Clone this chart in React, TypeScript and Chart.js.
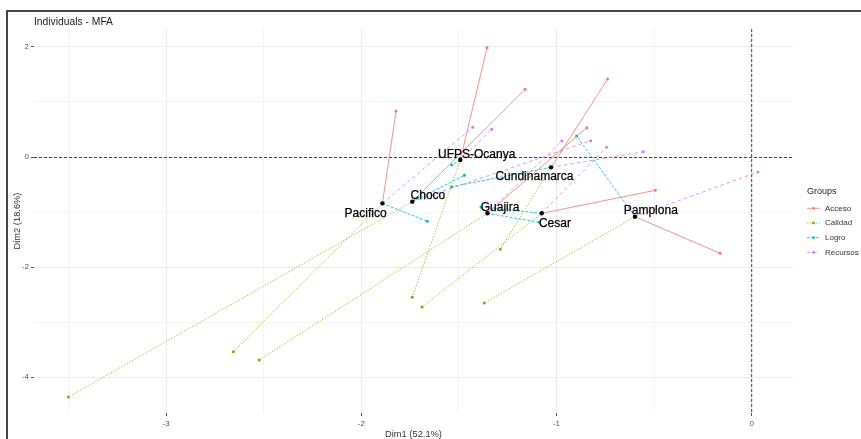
import React, { useEffect, useRef } from "react";
import { Chart, registerables } from "chart.js";
Chart.register(...registerables);

// ---------- data ----------
const individuals = ["UFPS-Ocanya", "Cundinamarca", "Choco", "Pacifico", "Guajira", "Cesar", "Pamplona"];
const indX = [-1.493, -1.028, -1.739, -1.892, -1.354, -1.076, -0.598];
const indY = [-0.054, -0.188, -0.811, -0.842, -1.023, -1.023, -1.084];

const groups = ["Acceso", "Calidad", "Logro", "Recursos"];
const accesoX = [-1.356, -0.738, -1.161, -1.822, -0.845, -0.494, -0.162];
const accesoY = [1.985, 1.417, 1.23, 0.836, 0.532, -0.605, -1.749];
const calidadX = [-1.739, -1.288, -3.501, -2.656, -2.523, -1.689, -1.37];
const calidadY = [-2.549, -1.677, -4.36, -3.537, -3.688, -2.725, -2.652];
const logroX = [-1.537, -1.537, -1.472, -1.662, -1.088, -1.387, -0.897];
const logroY = [-0.145, -0.539, -0.333, -1.169, -1.187, -0.908, 0.381];
const recursosX = [-1.332, -0.555, -0.825, -1.429, -0.973, -0.743, 0.032];
const recursosY = [0.503, 0.096, 0.296, 0.54, 0.291, 0.176, -0.272];

// label anchor positions (data units, text centre)
const labelX = [-1.409, -1.113, -1.659, -1.978, -1.289, -1.008, -0.517];
const labelY = [0.067, -0.345, -0.678, -1.005, -0.903, -1.186, -0.963];

const xMajorTicks = [-3, -2, -1, 0];
const xMinorTicks = [-3.5, -2.5, -1.5, -0.5];
const yMajorTicks = [2, 0, -2, -4];
const yMinorTicks = [1, -1, -3];

const titleText = "Individuals - MFA";
const xTitle = "Dim1 (52.1%)";
const yTitle = "Dim2 (18.6%)";
const legendTitle = "Groups";

// ---------- styles ----------
const groupColors = ["#F8766D", "#7CAE00", "#00BFC4", "#C77CFF"];
const groupLineColors = ["rgba(248,118,109,0.8)", "rgba(124,174,0,0.7)", "rgba(0,191,196,0.8)", "rgba(199,124,255,0.8)"];
const groupDash: number[][] = [[], [1.5, 1.5], [3, 1.5], [3.5, 3]];
const FONT = "'Liberation Sans', Arial, sans-serif";

const partialX = [accesoX, calidadX, logroX, recursosX];
const partialY = [accesoY, calidadY, logroY, recursosY];

export default function App() {
  const ref = useRef<HTMLCanvasElement | null>(null);

  useEffect(() => {
    if (!ref.current) return;

    const datasets: any[] = [];
    datasets.push({
      label: "ind",
      data: individuals.map((_, i) => ({ x: indX[i], y: indY[i] })),
      backgroundColor: "#000",
      pointBackgroundColor: "#000",
      borderColor: "rgba(0,0,0,0)",
      pointBorderColor: "rgba(0,0,0,0)",
      pointRadius: 2.2,
      borderWidth: 1,
      pointBorderWidth: 0,
      showLine: false,
      order: 0,
    });
    groups.forEach((g, gi) => {
      individuals.forEach((_, i) => {
        datasets.push({
          label: g,
          data: [
            { x: indX[i], y: indY[i] },
            { x: partialX[gi][i], y: partialY[gi][i] },
          ],
          showLine: true,
          borderColor: groupLineColors[gi],
          backgroundColor: groupColors[gi],
          pointBackgroundColor: groupColors[gi],
          pointBorderColor: "rgba(0,0,0,0)",
          borderWidth: 1,
          borderDash: groupDash[gi],
          pointRadius: [0, 1.5],
          pointBorderWidth: 0,
          fill: false,
          tension: 0,
          order: 1,
        });
      });
    });

    const overlay = {
      id: "overlay",
      beforeDatasetsDraw(chart: any) {
        const { ctx, chartArea, scales } = chart;
        const x = scales.x, y = scales.y;
        ctx.save();
        ctx.strokeStyle = "#444";
        ctx.lineWidth = 1;
        ctx.setLineDash([3, 2]);
        const y0 = Math.round(y.getPixelForValue(0)) + 0.5;
        ctx.beginPath();
        ctx.moveTo(chartArea.left, y0);
        ctx.lineTo(chartArea.right, y0);
        ctx.stroke();
        const x0 = x.getPixelForValue(0);
        ctx.beginPath();
        ctx.moveTo(x0, chartArea.top);
        ctx.lineTo(x0, chartArea.bottom);
        ctx.stroke();
        ctx.restore();
      },
      afterDatasetsDraw(chart: any) {
        const { ctx, scales } = chart;
        ctx.save();
        ctx.fillStyle = "#000";
        ctx.strokeStyle = "#000";
        ctx.lineWidth = 0.25;
        ctx.setLineDash([]);
        ctx.font = `12px ${FONT}`;
        ctx.textAlign = "center";
        ctx.textBaseline = "alphabetic";
        individuals.forEach((name, i) => {
          const px = scales.x.getPixelForValue(labelX[i]);
          const py = scales.y.getPixelForValue(labelY[i]);
          ctx.fillText(name, px, py + 4.3);
          ctx.strokeText(name, px, py + 4.3);
        });
        ctx.restore();
      },
      afterDraw(chart: any) {
        const { ctx, chartArea } = chart;
        ctx.save();
        ctx.setLineDash([]);
        // title
        ctx.fillStyle = "#222";
        ctx.font = `10.3px ${FONT}`;
        ctx.textAlign = "left";
        ctx.textBaseline = "alphabetic";
        ctx.fillText(titleText, chartArea.left, 24.5);
        // axis titles
        ctx.fillStyle = "#333";
        ctx.font = `9.3px ${FONT}`;
        ctx.textAlign = "center";
        ctx.textBaseline = "middle";
        ctx.fillText(xTitle, (chartArea.left + chartArea.right) / 2, 434);
        ctx.save();
        ctx.translate(17, (chartArea.top + chartArea.bottom) / 2);
        ctx.rotate(-Math.PI / 2);
        ctx.fillText(yTitle, 0, 0);
        ctx.restore();
        // legend
        ctx.textAlign = "left";
        ctx.font = `9px ${FONT}`;
        ctx.fillStyle = "#222";
        ctx.fillText(legendTitle, 807, 192);
        ctx.font = `8px ${FONT}`;
        groups.forEach((g, gi) => {
          const ly = 208.3 + gi * 14.7;
          ctx.strokeStyle = groupLineColors[gi];
          ctx.lineWidth = 1;
          ctx.setLineDash(groupDash[gi]);
          ctx.beginPath();
          ctx.moveTo(807, ly);
          ctx.lineTo(820, ly);
          ctx.stroke();
          ctx.setLineDash([]);
          ctx.fillStyle = groupColors[gi];
          ctx.beginPath();
          ctx.arc(813.5, ly, 1.4, 0, Math.PI * 2);
          ctx.fill();
          ctx.fillStyle = "#333";
          ctx.fillText(g, 825, ly);
        });
        ctx.restore();
      },
    };

    const gridColor = (majors: number[]) => (c: any) =>
      c.tick && majors.includes(c.tick.value) ? "#ebebeb" : "#f4f4f4";
    const tickColor = (majors: number[]) => (c: any) =>
      c.tick && majors.includes(c.tick.value) ? "#555" : "rgba(0,0,0,0)";

    const chart = new Chart(ref.current, {
      type: "scatter",
      data: { datasets },
      options: {
        animation: false,
        responsive: false,
        maintainAspectRatio: false,
        layout: { padding: { top: 29, right: 68, left: 0, bottom: 0 } },
        plugins: { legend: { display: false }, tooltip: { enabled: false }, title: { display: false } },
        scales: {
          x: {
            type: "linear",
            min: -3.677,
            max: 0.2116,
            afterFit: (s: any) => { s.height = 26; },
            afterBuildTicks: (s: any) => {
              s.ticks = [...xMinorTicks, ...xMajorTicks].sort((a, b) => a - b).map((v) => ({ value: v }));
            },
            ticks: {
              autoSkip: false,
              maxRotation: 0,
              padding: 3,
              color: "#555",
              font: { size: 8, family: FONT },
              callback: (v: any) => (xMajorTicks.includes(Number(v)) ? String(v) : ""),
            },
            grid: { color: gridColor(xMajorTicks), tickColor: tickColor(xMajorTicks), tickLength: 3, lineWidth: 1 },
            border: { display: false },
          },
          y: {
            type: "linear",
            min: -4.65,
            max: 2.325,
            afterFit: (s: any) => { s.width = 34; },
            afterBuildTicks: (s: any) => {
              s.ticks = [...yMinorTicks, ...yMajorTicks].sort((a, b) => a - b).map((v) => ({ value: v }));
            },
            ticks: {
              autoSkip: false,
              padding: 2,
              color: "#555",
              font: { size: 8, family: FONT },
              callback: (v: any) => (yMajorTicks.includes(Number(v)) ? String(v) : ""),
            },
            grid: { color: gridColor(yMajorTicks), tickColor: tickColor(yMajorTicks), tickLength: 3, lineWidth: 1 },
            border: { display: false },
          },
        },
      },
      plugins: [overlay],
    } as any);

    return () => chart.destroy();
  }, []);

  return (
    <div style={{ position: "fixed", left: 0, top: 0, width: 861, height: 439, background: "#fff", overflow: "hidden" }}>
      <canvas ref={ref} width={861} height={439} style={{ display: "block", width: 861, height: 439 }} />
      <div
        style={{
          position: "absolute",
          left: 6,
          top: 10,
          right: -4,
          bottom: -4,
          borderTop: "2px solid #444",
          borderLeft: "2px solid #444",
          pointerEvents: "none",
        }}
      />
    </div>
  );
}
